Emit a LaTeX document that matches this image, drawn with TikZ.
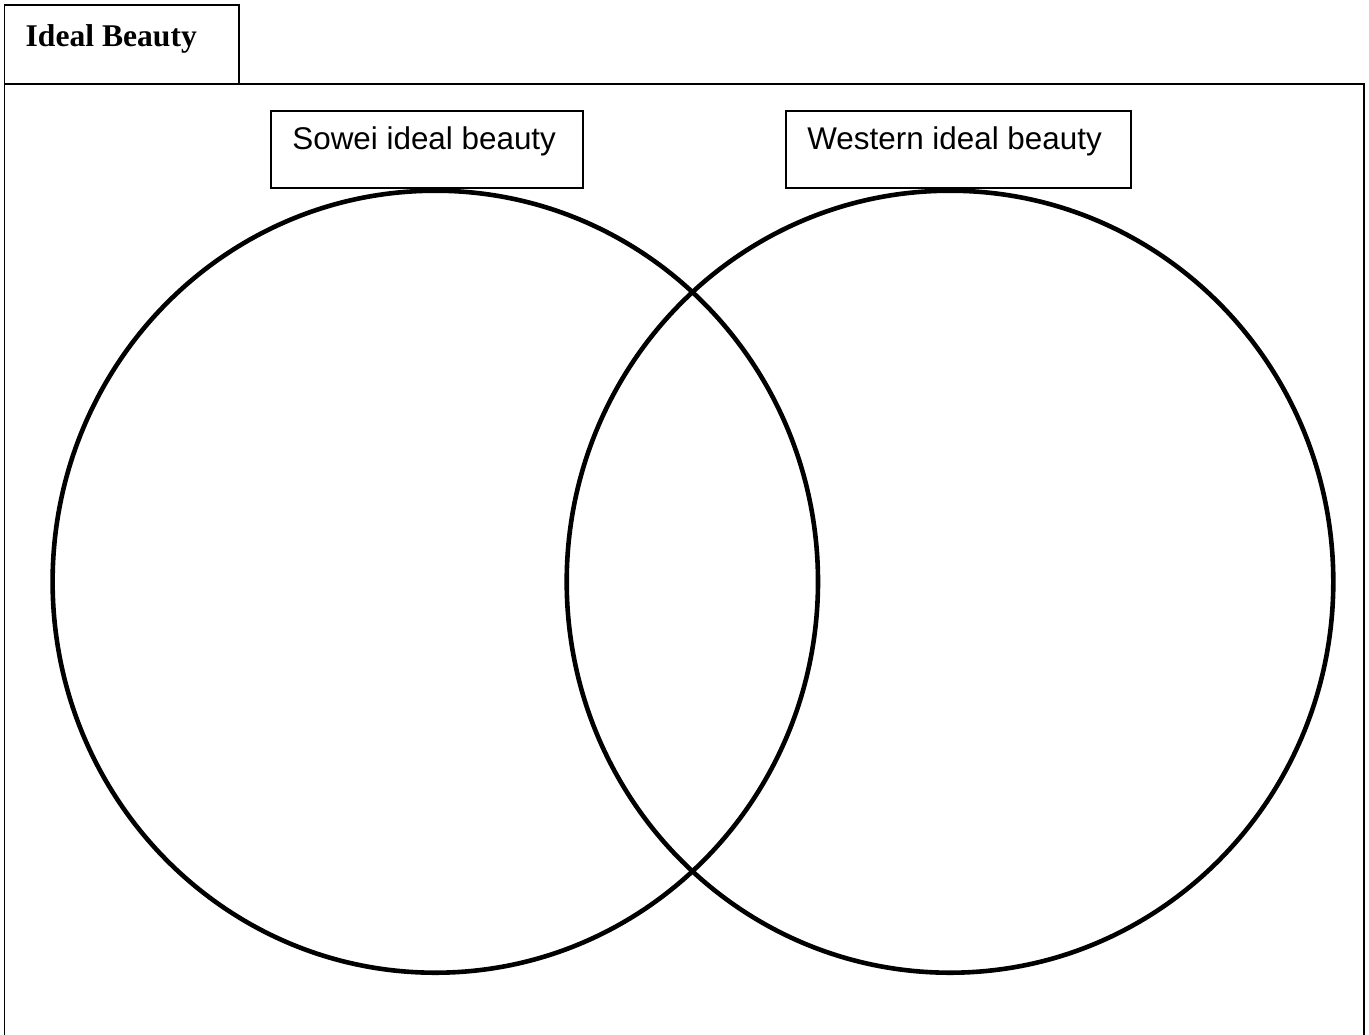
\documentclass[tikz,border=0pt]{standalone}
\usepackage{fontspec}
\setmainfont{Liberation Serif}
\newfontfamily\arialfont{Liberation Sans}
\begin{document}
\begin{tikzpicture}[x=0.5bp,y=-0.5bp,
  boxline/.style={draw=black,line width=0.9bp},
  ring/.style={draw=black,line width=2.3bp},
  titletext/.style={anchor=base west,inner sep=0pt,font=\fontsize{15.8bp}{18bp}\selectfont\bfseries},
  labeltext/.style={anchor=base west,inner sep=0pt,font=\arialfont\fontsize{15.7bp}{18bp}\selectfont}]
\useasboundingbox (0,0) rectangle (1369,1034);
% outer frame and tab
\draw[boxline] (4.5,1040) -- (4.5,84) -- (1364.3,84) -- (1364.3,1040);
\draw[boxline] (4.5,84) -- (4.5,5) -- (239.3,5) -- (239.3,84);
\node[titletext] (title) at (25.3,46.7) {Ideal Beauty};
% circles
\draw[ring] (435.3,581.7) ellipse [x radius=382.7, y radius=391];
\draw[ring] (950,581.7) ellipse [x radius=383.3, y radius=391];
% label boxes
\draw[boxline,fill=white] (270.7,110.7) rectangle (583,188.3);
\draw[boxline,fill=white] (786,110.7) rectangle (1131,188.3);
\node[labeltext] (sowei) at (292,149) {Sowei ideal beauty};
\node[labeltext] (western) at (807,149) {Western ideal beauty};
\end{tikzpicture}
\end{document}
